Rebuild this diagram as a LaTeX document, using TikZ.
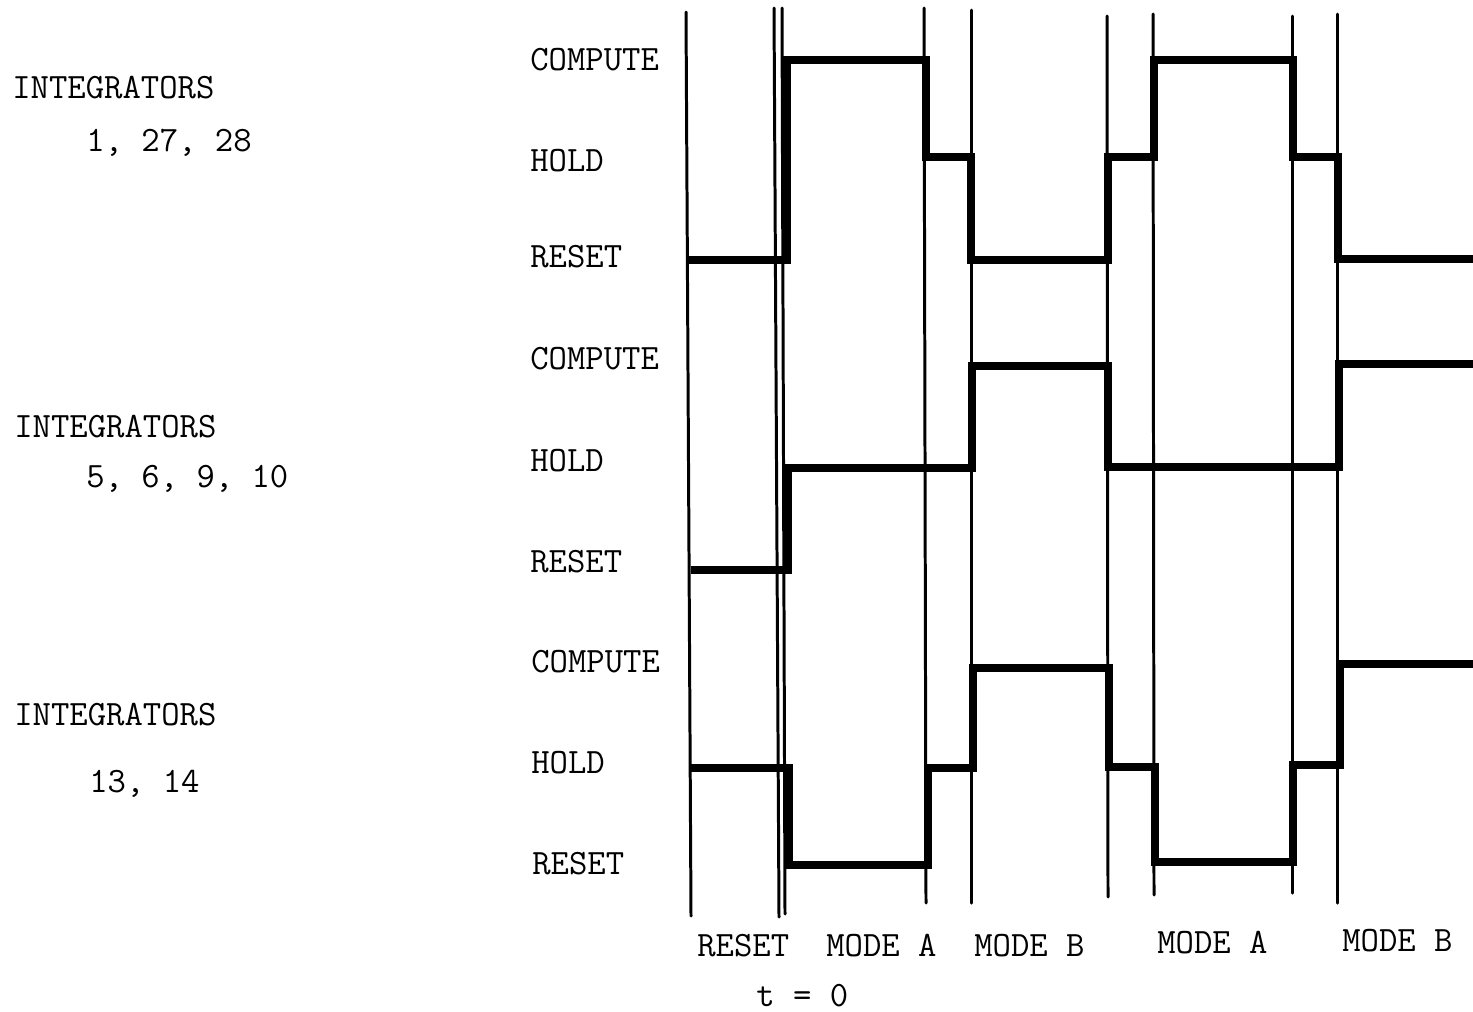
\documentclass[tikz,border=0pt]{standalone}
\begin{document}
\begin{tikzpicture}[x=0.02cm,y=-0.02cm,
  lbl/.style={anchor=base west,inner sep=0pt,font=\fontsize{20.3}{24}\selectfont\ttfamily},
  tick/.style={line width=1.7pt,line cap=round},
  sig/.style={line width=5pt,line join=miter}]
\useasboundingbox (0,0) rectangle (1473,1011);
% left labels
\node[lbl] (g1a) at (12,98) {INTEGRATORS};
\node[lbl] (g1b) at (86,151) {1, 27, 28};
\node[lbl] (g2a) at (14,437) {INTEGRATORS};
\node[lbl] (g2b) at (86,487) {5, 6, 9, 10};
\node[lbl] (g3a) at (14,725) {INTEGRATORS};
\node[lbl] (g3b) at (89,792) {13, 14};
% state labels
\node[lbl] (c1) at (530,70) {COMPUTE};
\node[lbl] (h1) at (530,171) {HOLD};
\node[lbl] (r1) at (530,267) {RESET};
\node[lbl] (c2) at (530,369) {COMPUTE};
\node[lbl] (h2) at (530,471) {HOLD};
\node[lbl] (r2) at (530,572) {RESET};
\node[lbl] (c3) at (531,672) {COMPUTE};
\node[lbl] (h3) at (531,773) {HOLD};
\node[lbl] (r3) at (532,874) {RESET};
% bottom labels
\node[lbl] (m0) at (697,956) {RESET};
\node[lbl] (m1) at (826,956) {MODE A};
\node[lbl] (m2) at (974,956) {MODE B};
\node[lbl] (m3) at (1157,953) {MODE A};
\node[lbl] (m4) at (1342,951) {MODE B};
\node[lbl] (t0) at (756,1006) {t = 0};
% time markers
\draw[tick] (686,12) -- (691,916);
\draw[tick] (774,8) -- (779,917);
\draw[tick] (782,8) -- (785,914);
\draw[tick] (924,8) -- (926,903);
\draw[tick] (971,10) -- (971,903);
\draw[tick] (1107,16) -- (1108,897);
\draw[tick] (1153,14) -- (1154,895);
\draw[tick] (1292,16) -- (1292,893);
\draw[tick] (1337,14) -- (1337,903);
% signals
\draw[sig] (688,260) -- (787,260) -- (787,60) -- (926,60) -- (926,157) -- (971,157) -- (971,260) -- (1108,260) -- (1108,157) -- (1154,157) -- (1154,60) -- (1293,60) -- (1293,157) -- (1338,157) -- (1338,259) -- (1473,259);
\draw[sig] (691,570) -- (788,570) -- (788,468) -- (972,468) -- (972,366) -- (1108,366) -- (1108,467) -- (1339,467) -- (1339,364) -- (1473,364);
\draw[sig] (691,768) -- (789,768) -- (789,865) -- (928,865) -- (928,768) -- (973,768) -- (973,668) -- (1109,668) -- (1109,767) -- (1155,767) -- (1155,862) -- (1293,862) -- (1293,765) -- (1340,765) -- (1340,664) -- (1473,664);
\end{tikzpicture}
\end{document}
